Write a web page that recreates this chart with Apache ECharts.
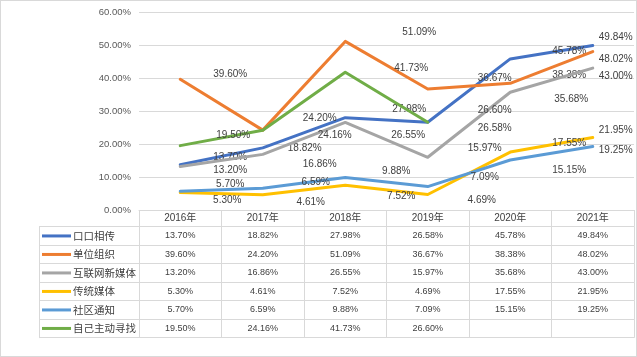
<!DOCTYPE html>
<html><head><meta charset="utf-8">
<script src="https://cdn.jsdelivr.net/npm/echarts@6/dist/echarts.min.js"></script>
<style>
html,body{margin:0;padding:0;background:#fff}
#c{position:absolute;left:0;top:0;width:637px;height:357px}
#b{position:absolute;left:0;top:0;width:637px;height:357px;box-sizing:border-box;border:1px solid #d9d9d9;pointer-events:none}
</style>
</head><body><div id="c"></div><div id="b"></div>
<script>
// ---- data ----
const years = ['2016年', '2017年', '2018年', '2019年', '2020年', '2021年'];
const seriesNames = ['口口相传', '单位组织', '互联网新媒体', '传统媒体', '社区通知', '自己主动寻找'];
const kouKouXiangChuan = [13.70, 18.82, 27.98, 26.58, 45.78, 49.84];
const danWeiZuZhi = [39.60, 24.20, 51.09, 36.67, 38.38, 48.02];
const huLianWang = [13.20, 16.86, 26.55, 15.97, 35.68, 43.00];
const chuanTongMeiTi = [5.30, 4.61, 7.52, 4.69, 17.55, 21.95];
const sheQuTongZhi = [5.70, 6.59, 9.88, 7.09, 15.15, 19.25];
const ziJiZhuDong = [19.50, 24.16, 41.73, 26.60, null, null];
const yTicks = [0, 10, 20, 30, 40, 50, 60];

// ---- styling (kept apart from data) ----
const colors = ['#4472C4', '#ED7D31', '#A5A5A5', '#FFC000', '#5B9BD5', '#70AD47'];
// label offsets relative to each point (Excel's displaced labels)
const labelOffsets = [
  [[50,-8],[42,0],[64,-8],[67,6],[59,-8],[23,-8]],
  [[50,-5],[57,-12],[74,-9],[67,-11],[59,-8],[23,8]],
  [[50,4],[57,10],[63,12.5],[57,-9],[61,7],[23,8.5]],
  [[47,7.5],[48,7],[56,11.5],[54,5.5],[59,-9],[23,-7]],
  [[50,-7],[53,-6],[51,-6],[57,-9],[59,10.5],[23,4]],
  [[53,-10.5],[72,5],[66,-4.5],[67,-12],[0,0],[0,0]]
];
const allValues = [kouKouXiangChuan, danWeiZuZhi, huLianWang, chuanTongMeiTi, sheQuTongZhi, ziJiZhuDong];
const FONT = "'Liberation Sans','Noto Sans CJK SC',sans-serif";
const CJK = "'Noto Sans CJK SC','Liberation Sans',sans-serif";
const GRID_C = '#d9d9d9';
const TXT = '#404040';
const HEAD_H = 16.7, ROW_H = 18.5;
const fmt = v => (v == null ? '' : v.toFixed(2) + '%');

const xAxes = [{
  type: 'category', gridIndex: 0, data: years, boundaryGap: true,
  axisLine: { show: true, lineStyle: { color: GRID_C, width: 1 } },
  axisTick: { show: true, interval: 0, length: HEAD_H, lineStyle: { color: GRID_C } },
  axisLabel: { interval: 0, margin: HEAD_H / 2, verticalAlign: 'middle', color: TXT, fontSize: 10, fontFamily: FONT },
  splitLine: { show: false }
}];
allValues.forEach((vals, k) => {
  xAxes.push({
    type: 'category', gridIndex: 0, position: 'bottom', offset: HEAD_H + ROW_H * k,
    data: vals.map(fmt), boundaryGap: true,
    axisLine: { show: true, lineStyle: { color: GRID_C, width: 1 } },
    axisTick: { show: true, interval: 0, length: ROW_H, lineStyle: { color: GRID_C } },
    axisLabel: { interval: 0, margin: ROW_H / 2, verticalAlign: 'middle', color: TXT, fontSize: 9, fontFamily: FONT },
    splitLine: { show: false }
  });
});
xAxes.push({
  type: 'category', gridIndex: 0, position: 'bottom', offset: HEAD_H + ROW_H * 6,
  data: years, boundaryGap: true,
  axisLine: { show: true, lineStyle: { color: GRID_C, width: 1 } },
  axisTick: { show: false }, axisLabel: { show: false }, splitLine: { show: false }
});
xAxes.push({ type: 'value', gridIndex: 1, show: false });

const rich = { t: { color: TXT, fontSize: 10.5, fontFamily: CJK, padding: [0, 0, 0, 2] } };
colors.forEach((c, i) => { rich['l' + i] = { width: 29, height: 3, backgroundColor: c }; });

const series = allValues.map((vals, i) => ({
  type: 'line', name: seriesNames[i], xAxisIndex: 0, yAxisIndex: 0,
  symbol: 'circle', symbolSize: 0, showSymbol: true,
  lineStyle: { color: colors[i], width: 3, cap: 'round', join: 'round' },
  itemStyle: { color: colors[i] },
  label: {
    show: true, position: 'inside', align: 'center', verticalAlign: 'middle',
    color: TXT, fontSize: 10, fontFamily: FONT,
    formatter: p => fmt(p.value)
  },
  data: vals.map((v, j) => ({ value: v, label: { offset: labelOffsets[i][j] } })),
  connectNulls: false, animation: false, z: 2 + i
}));

const chart = echarts.init(document.getElementById('c'), null, { renderer: 'canvas' });
chart.setOption({
  animation: false,
  grid: [
    { left: 139, right: 3, top: 12, height: 198 },
    { left: 39, top: HEAD_H + 210, width: 100, height: ROW_H * 6 }
  ],
  xAxis: xAxes,
  yAxis: [{
    type: 'value', gridIndex: 0, min: yTicks[0], max: yTicks[yTicks.length - 1], interval: 10,
    axisLine: { show: false }, axisTick: { show: false },
    axisLabel: { formatter: v => v.toFixed(2) + '%', margin: 8, color: '#595959', fontSize: 9.5, fontFamily: FONT },
    splitLine: { show: true, lineStyle: { color: GRID_C, width: 1 } }
  }, {
    type: 'category', gridIndex: 1, inverse: true, data: seriesNames,
    axisLine: { show: true, lineStyle: { color: GRID_C, width: 1 } },
    axisTick: { show: false },
    splitLine: { show: true, interval: 0, lineStyle: { color: GRID_C, width: 1 } },
    axisLabel: {
      inside: true, interval: 0, margin: 3, align: 'left', verticalAlign: 'middle',
      formatter: (v, i) => '{l' + i + '|}{t|' + v + '}', rich: rich
    }
  }],
  series: series
});
</script>
</body></html>
